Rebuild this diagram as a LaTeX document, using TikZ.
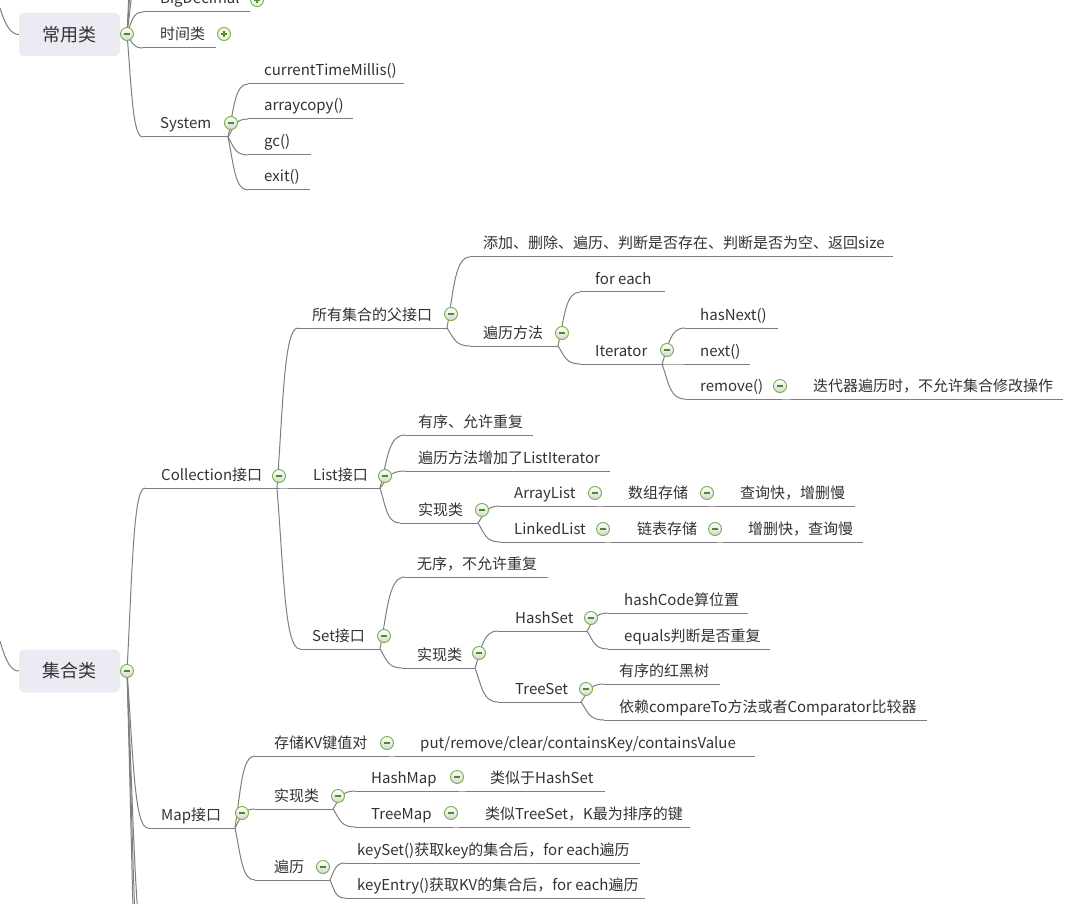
\documentclass[tikz,border=0pt]{standalone}
\usepackage{fontspec}
\setmainfont{Noto Sans CJK SC}
\usetikzlibrary{calc}
\definecolor{linec}{HTML}{7F7F7F}
\definecolor{textc}{HTML}{333333}
\definecolor{boxc}{HTML}{EBEBF3}
\definecolor{circg}{HTML}{72B23E}
\definecolor{minusg}{HTML}{4F8A2C}
\definecolor{plusfill}{HTML}{EEF7E6}
\tikzset{
  uline/.style={draw=linec, line width=1},
  conn/.style={draw=linec, line width=1},
  lbl/.style={anchor=base west, inner sep=0, text=textc, font=\fontsize{15}{18}\selectfont},
  rootbox/.style={rounded corners=5, fill=boxc, minimum width=101, minimum height=43, inner sep=0, text=textc, font=\fontsize{18}{22}\selectfont},
  minusc/.style={circle, minimum size=13, inner sep=0, draw=circg, line width=0.9, top color=white, bottom color=black!16,
    path picture={\draw[draw=minusg, line width=1.3] ([xshift=-3.4]path picture bounding box.center) -- ([xshift=3.4]path picture bounding box.center);}},
  plusc/.style={circle, minimum size=13, inner sep=0, draw=circg, line width=0.9, fill=plusfill,
    path picture={\draw[draw=circg!80!black, line width=1.3] ([xshift=-3.4]path picture bounding box.center) -- ([xshift=3.4]path picture bounding box.center) ([yshift=-3.4]path picture bounding box.center) -- ([yshift=3.4]path picture bounding box.center);}}
}
\newcommand\mmtopic[6]{%
  \coordinate (#1-l) at (#2,#4);
  \coordinate (#1-r) at (#3,#4);
  \draw[uline] (#1-l) -- (#1-r);
  \node[lbl] (#1) at (#5,#4-8) {#6};
}
\newcommand\mmbr[2]{%
  \draw[conn] let \p1=(#1), \p2=(#2) in (\p1) .. controls ({\x1+0.3*(\x2-\x1)},{\y1+0.55*(\y2-\y1)}) and ({\x1+0.35*(\x2-\x1)},{\y2}) .. (\p2);
}
\begin{document}
\begin{tikzpicture}[x=1pt,y=-1pt]
\useasboundingbox (0,0) rectangle (1069,904);
\clip (0,0) rectangle (1069,904);
\fill[white] (0,0) rectangle (1069,904);

% ---------- root boxes ----------
\node[rootbox] (r1) at (69.5,34.5) {常用类};
\node[rootbox] (r2) at (69.5,671) {集合类};
\coordinate (rc1c) at (127,34);
\coordinate (rc2c) at (127,671);
\coordinate (in1) at (0,8);
\coordinate (in2) at (0,641);
\draw[conn] (in1) .. controls (6,27) and (11,34) .. (r1.west);
\draw[conn] (in2) .. controls (6,662) and (11,671) .. (r2.west);

% ---------- 常用类 ----------
\mmtopic{bigd}{143}{250}{12}{160}{BigDecimal}
\mmtopic{time}{143}{216}{48}{160}{时间类}
\mmtopic{sys}{143}{228}{137}{160}{System}
\mmtopic{ctm}{248}{404}{84}{264}{currentTimeMillis()}
\mmtopic{acp}{248}{353}{119}{264}{arraycopy()}
\mmtopic{gc}{248}{311}{155}{264}{gc()}
\mmtopic{exit}{248}{310}{190}{264}{exit()}
\coordinate (up1) at (150,-60);
\coordinate (up2) at (150,-130);
\coordinate (up3) at (150,-220);

% ---------- Collection ----------
\mmtopic{coll}{145}{277}{488}{161}{Collection接口}
\mmtopic{all}{298}{447}{328}{312}{所有集合的父接口}
\mmtopic{add}{470}{893}{257}{483}{添加、删除、遍历、判断是否存在、判断是否为空、返回size}
\mmtopic{trav}{470}{558}{346}{483}{遍历方法}
\mmtopic{fe}{580}{665}{292}{595}{for each}
\mmtopic{iter}{580}{662}{364}{595}{Iterator}
\mmtopic{hn}{685}{778}{328}{700}{hasNext()}
\mmtopic{nx}{685}{750}{364}{700}{next()}
\mmtopic{rm}{685}{780}{399}{700}{remove()}
\mmtopic{rmc}{792}{1063}{399}{813}{迭代器遍历时，不允许集合修改操作}

\mmtopic{list}{290}{380}{488}{313}{List接口}
\mmtopic{ord}{405}{533}{435}{418}{有序、允许重复}
\mmtopic{lit}{405}{610}{471}{418}{遍历方法增加了ListIterator}
\mmtopic{impla}{400}{478}{523}{418}{实现类}
\mmtopic{al}{500}{595}{506}{514}{ArrayList}
\mmtopic{alc}{605}{707}{506}{628}{数组存储}
\mmtopic{alcc}{717}{855}{506}{740}{查询快，增删慢}
\mmtopic{ll}{500}{603}{542}{514}{LinkedList}
\mmtopic{llc}{613}{715}{542}{637}{链表存储}
\mmtopic{llcc}{725}{863}{542}{748}{增删快，查询慢}

\mmtopic{set}{300}{380}{649}{312}{Set接口}
\mmtopic{uno}{405}{548}{577}{417}{无序，不允许重复}
\mmtopic{implb}{402}{475}{668}{417}{实现类}
\mmtopic{hs}{498}{587}{631}{515}{HashSet}
\mmtopic{ts}{498}{581}{702}{515}{TreeSet}
\mmtopic{hc}{608}{748}{613}{624}{hashCode算位置}
\mmtopic{eq}{608}{770}{649}{624}{equals判断是否重复}
\mmtopic{rb}{604}{720}{684}{619}{有序的红黑树}
\mmtopic{cmp}{604}{927}{720}{619}{依赖compareTo方法或者Comparator比较器}

% ---------- Map ----------
\mmtopic{map}{148}{235}{828}{161}{Map接口}
\mmtopic{kv}{255}{387}{756}{274}{存储KV键值对}
\mmtopic{kvc}{397}{755}{756}{420}{put/remove/clear/containsKey/containsValue}
\mmtopic{implc}{255}{333}{809}{274}{实现类}
\mmtopic{hm}{355}{457}{791}{371}{HashMap}
\mmtopic{hmc}{467}{605}{791}{490}{类似于HashSet}
\mmtopic{tm}{355}{451}{827}{371}{TreeMap}
\mmtopic{tmc}{461}{690}{827}{485}{类似TreeSet，K最为排序的键}
\mmtopic{tr}{255}{330}{880}{274}{遍历}
\mmtopic{ks}{345}{640}{863}{357}{keySet()获取key的集合后，for each遍历}
\mmtopic{ke}{345}{645}{898}{357}{keyEntry()获取KV的集合后，for each遍历}
\coordinate (dn1) at (152,980);
\coordinate (dn2) at (152,1060);
\coordinate (dn3) at (152,1160);

% ---------- connectors ----------
\mmbr{rc1c}{up1}
\mmbr{rc1c}{up2}
\mmbr{rc1c}{up3}
\mmbr{rc1c}{bigd-l}
\mmbr{rc1c}{time-l}
\mmbr{rc1c}{sys-l}
\mmbr{sys-r}{ctm-l}
\mmbr{sys-r}{acp-l}
\mmbr{sys-r}{gc-l}
\mmbr{sys-r}{exit-l}

\mmbr{rc2c}{coll-l}
\mmbr{rc2c}{map-l}
\mmbr{rc2c}{dn1}
\mmbr{rc2c}{dn2}
\mmbr{rc2c}{dn3}

\mmbr{coll-r}{all-l}
\mmbr{coll-r}{list-l}
\mmbr{coll-r}{set-l}
\mmbr{all-r}{add-l}
\mmbr{all-r}{trav-l}
\mmbr{trav-r}{fe-l}
\mmbr{trav-r}{iter-l}
\mmbr{iter-r}{hn-l}
\mmbr{iter-r}{nx-l}
\mmbr{iter-r}{rm-l}
\mmbr{rm-r}{rmc-l}

\mmbr{list-r}{ord-l}
\mmbr{list-r}{lit-l}
\mmbr{list-r}{impla-l}
\mmbr{impla-r}{al-l}
\mmbr{impla-r}{ll-l}
\mmbr{al-r}{alc-l}
\mmbr{alc-r}{alcc-l}
\mmbr{ll-r}{llc-l}
\mmbr{llc-r}{llcc-l}

\mmbr{set-r}{uno-l}
\mmbr{set-r}{implb-l}
\mmbr{implb-r}{hs-l}
\mmbr{implb-r}{ts-l}
\mmbr{hs-r}{hc-l}
\mmbr{hs-r}{eq-l}
\mmbr{ts-r}{rb-l}
\mmbr{ts-r}{cmp-l}

\mmbr{map-r}{kv-l}
\mmbr{map-r}{implc-l}
\mmbr{map-r}{tr-l}
\mmbr{kv-r}{kvc-l}
\mmbr{implc-r}{hm-l}
\mmbr{implc-r}{tm-l}
\mmbr{hm-r}{hmc-l}
\mmbr{tm-r}{tmc-l}
\mmbr{tr-r}{ks-l}
\mmbr{tr-r}{ke-l}

% ---------- collapse / expand markers ----------
\node[minusc] (rc1) at (rc1c) {};
\node[minusc] (rc2) at (rc2c) {};
\node[plusc] (pbigd) at (257,0) {};
\node[plusc] (ptime) at (224,34) {};
\node[minusc] (msys) at (231,123) {};
\node[minusc] (mcoll) at (279,476) {};
\node[minusc] (mall) at (451,314) {};
\node[minusc] (mtrav) at (562,333) {};
\node[minusc] (miter) at (667,350) {};
\node[minusc] (mrm) at (780,386) {};
\node[minusc] (mlist) at (385,476) {};
\node[minusc] (mimpla) at (482,510) {};
\node[minusc] (mal) at (595,493) {};
\node[minusc] (malc) at (707,493) {};
\node[minusc] (mll) at (603,529) {};
\node[minusc] (mllc) at (715,529) {};
\node[minusc] (mset) at (384,636) {};
\node[minusc] (mimplb) at (479,653) {};
\node[minusc] (mhs) at (591,618) {};
\node[minusc] (mts) at (586,689) {};
\node[minusc] (mmap) at (242,813) {};
\node[minusc] (mkv) at (387,743) {};
\node[minusc] (mimplc) at (338,796) {};
\node[minusc] (mhm) at (457,777) {};
\node[minusc] (mtm) at (451,813) {};
\node[minusc] (mtr) at (323,867) {};
\end{tikzpicture}
\end{document}
